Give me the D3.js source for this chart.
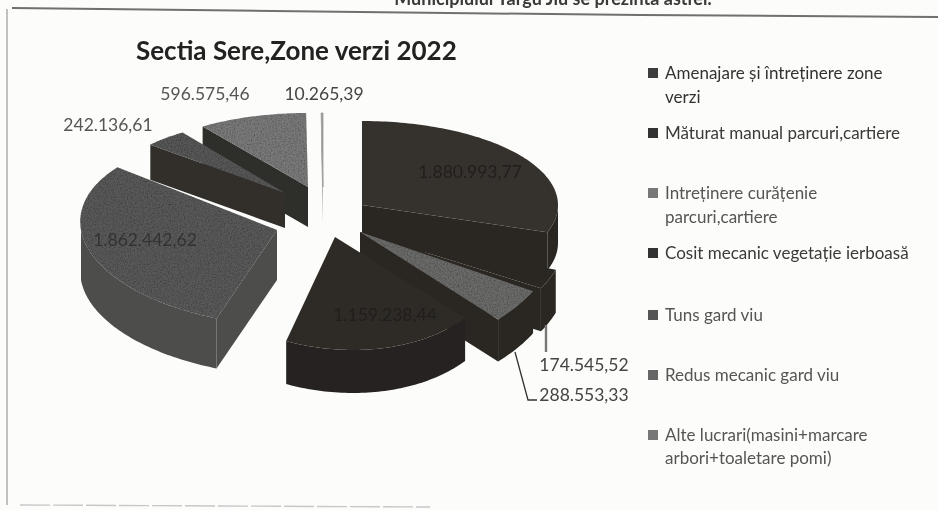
<!DOCTYPE html>
<html><head><meta charset="utf-8">
<script src="https://cdn.jsdelivr.net/npm/d3@7"></script>
<style>html,body{margin:0;padding:0;background:#fcfcfa;overflow:hidden}svg{display:block}text{font-family:Lato,"Open Sans",sans-serif}</style>
</head><body><svg id="c" width="938" height="510"></svg>
<script>
// ---- data ----
const chartTitle = "Sectia Sere,Zone verzi 2022";
const sliceValues = [1880993.77, 174545.52, 288553.33, 1159238.44, 1862442.62, 242136.61, 596575.46, 10265.39];
const legendNames = [
  ["Amenajare și întreținere  zone","verzi"],
  ["Măturat manual parcuri,cartiere"],
  ["Intreținere curățenie","parcuri,cartiere"],
  ["Cosit mecanic vegetație ierboasă"],
  ["Tuns  gard viu"],
  ["Redus mecanic gard viu"],
  ["Alte lucrari(masini+marcare","arbori+toaletare pomi)"]
];
const headerText = "Municipiului Târgu Jiu se prezintă astfel:";

// ---- appearance and layout (perspective is approximated slice by slice) ----
const faceColors = ["#36322e","#2b2723","#6c6c6a","#2f2b27","#5a5a5a","#585858","#7a7a7a","#9a9a9a"];
const wallColors = ["#2b2723","#2b2723","#2a2622","#282420","#4d4d4b","#302e2b","#2f2d2a","#aaaaaa"];
const legendColors = ["#3c3c3c","#333333","#777777","#333333","#555555","#666666","#777777"];
const legendTextColors = ["#333","#3a3a3a","#555","#3a3a3a","#555","#555","#555"];
const grainy = [false,false,true,false,true,true,true,false];
const drawOrder = [7,6,5,4,0,1,2,3];
const geom = [
  {ax:362,ay:205,rx:196,ry:84,skew:0,depth:38},
  {ax:360,ay:232,rx:207,ry:116,skew:0,depth:43},
  {ax:360,ay:232,rx:198,ry:122,skew:0,depth:42},
  {ax:335,ay:237,rx:168,ry:113,skew:.16,depth:43},
  {ax:277,ay:230,rx:196,ry:96,skew:.18,depth:50},
  {ax:285,ay:193,rx:178,ry:74,skew:0,depth:35},
  {ax:308,ay:187,rx:183,ry:74,skew:0,depth:40},
  {ax:323,ay:187,rx:183,ry:74,skew:0,depth:36}
];
const labelPos = [[470,172,"#211f1c"],[584,365,"#444"],[584,395,"#444"],[385,315,"#211f1c"],[145,240,"#333"],[108,125,"#555"],[205,94,"#555"],[324,94,"#444"]];
const legendRows = [[73,97],[133],[193,217],[253],[315],[375],[435,458]];

const svg = d3.select("#c");
const defs = svg.append("defs");
const blur = defs.append("filter").attr("id","scan").attr("x","-5%").attr("y","-5%").attr("width","110%").attr("height","110%");
blur.append("feGaussianBlur").attr("stdDeviation",.45);
const g = defs.append("filter").attr("id","grain").attr("x","-5%").attr("y","-5%").attr("width","110%").attr("height","110%");
g.append("feTurbulence").attr("type","fractalNoise").attr("baseFrequency",.7).attr("numOctaves",2).attr("seed",4).attr("result","n");
g.append("feColorMatrix").attr("in","n").attr("type","matrix").attr("values","0 0 0 0 0  0 0 0 0 0  0 0 0 0 0  1.1 0 0 0 -.42").attr("result","d");
g.append("feComposite").attr("in","d").attr("in2","SourceGraphic").attr("operator","in").attr("result","s");
g.append("feMerge").call(m=>{m.append("feMergeNode").attr("in","SourceGraphic");m.append("feMergeNode").attr("in","s");});

const root = svg.append("g").attr("filter","url(#scan)");

// frame
const line = d3.line();
root.append("path").attr("d",line([[12,8],[360,12],[640,15],[938,17]])).attr("fill","none").attr("stroke","#6f6f6f").attr("stroke-width",2);
root.append("path").attr("d",line([[7,9],[7,505]])).attr("fill","none").attr("stroke","#9a9a9a").attr("stroke-width",1.2);
root.append("path").attr("d",line([[20,505],[430,507]])).attr("fill","none").attr("stroke","#c8c8c8").attr("stroke-width",1.4).attr("stroke-dasharray","30 3");
root.append("text").attr("x",712).attr("y",5).attr("text-anchor","end").attr("font-size",18).attr("font-weight",700).attr("fill","#3a3a3a").text(headerText);

// pie
const pie = d3.pie().sort(null).startAngle(0).endAngle(2*Math.PI)(sliceValues);
const pt = (p,a,r=1,dy=0)=>{
  const x=Math.sin(a)*r, y=-Math.cos(a)*r;
  return [p.ax+x*p.rx+y*p.ry*p.skew, p.ay+y*p.ry+dy];
};
const chart = root.append("g");
const closed = d3.line().curve(d3.curveLinearClosed);
drawOrder.forEach(i=>{
  const s=pie[i], p=geom[i], a0=s.startAngle, a1=s.endAngle;
  const apex=pt(p,0,0), apexB=pt(p,0,0,p.depth);
  const gs=chart.append("g");
  // radial faces
  if(Math.sin(a1)>0) gs.append("path").attr("d",closed([apex,pt(p,a1),pt(p,a1,1,p.depth),apexB])).attr("fill",wallColors[i]);
  if(Math.sin(a0)<0) gs.append("path").attr("d",closed([apex,pt(p,a0),pt(p,a0,1,p.depth),apexB])).attr("fill",wallColors[i]);
  // outer wall: only the front half of the rim
  const w0=Math.max(a0,Math.PI/2), w1=Math.min(a1,3*Math.PI/2);
  if(w1>w0){
    const as=d3.range(w0,w1,.02).concat([w1]);
    gs.append("path").attr("d",closed(as.map(a=>pt(p,a)).concat(as.slice().reverse().map(a=>pt(p,a,1,p.depth))))).attr("fill",wallColors[i]);
  }
  // top face
  const as=d3.range(a0,a1,.02).concat([a1]);
  const top=gs.append("path").attr("d",closed([apex].concat(as.map(a=>pt(p,a))))).attr("fill",faceColors[i]);
  if(grainy[i]) top.attr("filter","url(#grain)");
  if(i===7) top.attr("stroke","#9a9a9a").attr("stroke-width",.8);
});

// leaders
root.append("path").attr("d",line([[546,325],[546,352]])).attr("fill","none").attr("stroke","#777").attr("stroke-width",2.4);
root.append("path").attr("d",line([[515,352],[528,400],[537,400]])).attr("fill","none").attr("stroke","#333").attr("stroke-width",1.3);

// value labels
const fmt = d3.formatLocale({decimal:",",thousands:".",grouping:[3],currency:["",""]}).format(",.2f");
root.append("g").selectAll("text").data(sliceValues).join("text")
  .attr("x",(d,i)=>labelPos[i][0]).attr("y",(d,i)=>labelPos[i][1]).attr("dy","0.35em")
  .attr("text-anchor","middle").attr("font-size",17.5).attr("fill",(d,i)=>labelPos[i][2]).text(d=>fmt(d));

// title
root.append("text").attr("x",136).attr("y",60).attr("font-size",26).attr("font-weight",700).attr("fill","#222").text(chartTitle);

// legend
const lg=root.append("g");
legendNames.forEach((rows,i)=>{
  lg.append("rect").attr("x",648).attr("y",legendRows[i][0]-5).attr("width",10).attr("height",10).attr("fill",legendColors[i]);
  rows.forEach((t,j)=>lg.append("text").attr("x",665).attr("y",legendRows[i][j]).attr("dy","0.35em").attr("font-size",17).attr("fill",legendTextColors[i]).text(t));
});
</script></body></html>
